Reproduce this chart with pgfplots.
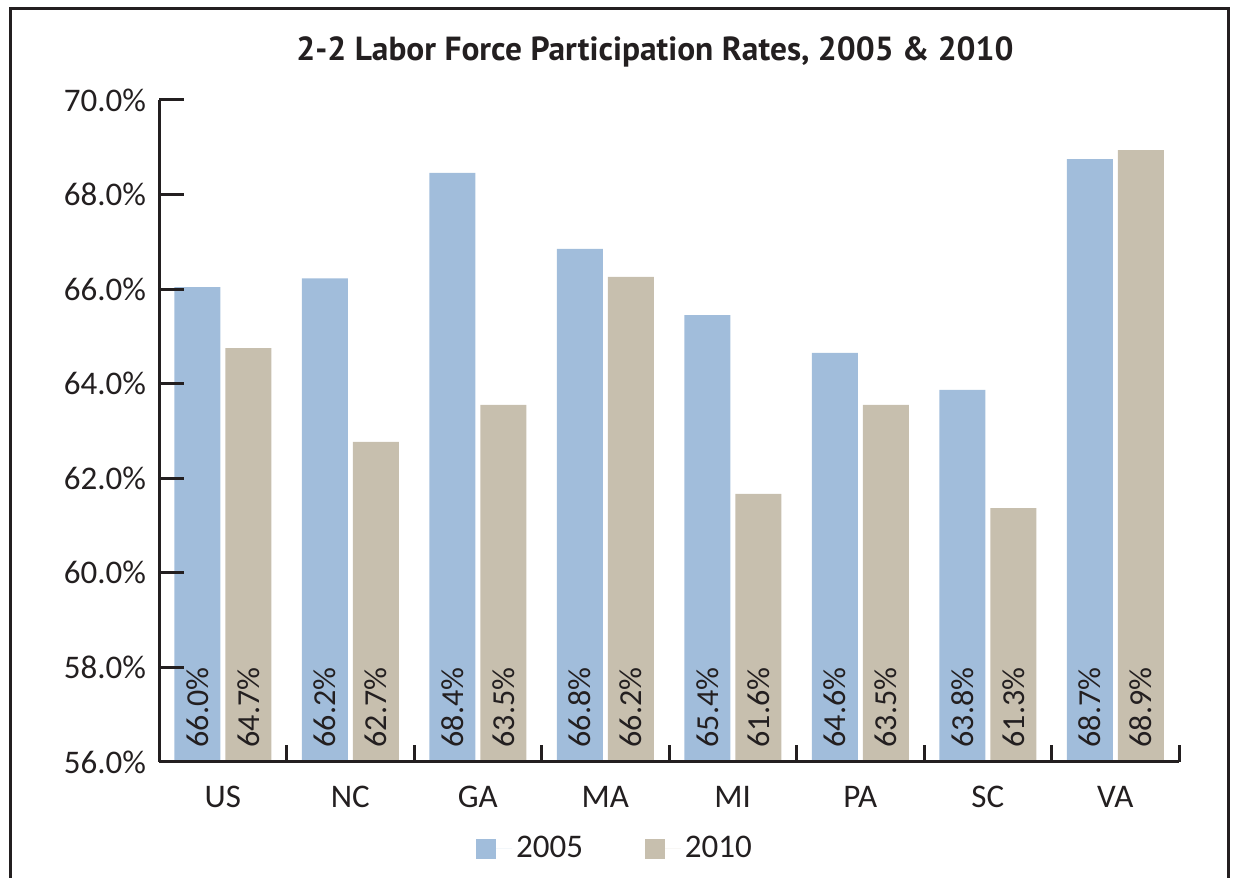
\documentclass[border=0pt]{standalone}
\usepackage{pgfplots}
\pgfplotsset{compat=1.18}
\usepackage{fontspec}
\setmainfont{Carlito}
\newfontfamily\titlefont{PT Sans}
\definecolor{cblue}{RGB}{161,189,219}
\definecolor{ctan}{RGB}{199,191,174}
\definecolor{cdark}{RGB}{35,31,32}
\begin{document}
\begin{tikzpicture}
\useasboundingbox (0,0) rectangle (617.5pt,438.5pt);
\draw[line width=1.5pt,cdark] (5pt,-20pt) -- (5pt,434pt) -- (614pt,434pt) -- (614pt,-20pt);
\node[anchor=base,text=cdark,inner sep=0pt] at (327.5pt,408pt) {\titlefont\bfseries\fontsize{16.7}{19}\selectfont 2-2 Labor Force Participation Rates, 2005 \& 2010};
\begin{axis}[
  at={(79.5pt,57.5pt)}, anchor=south west,
  scale only axis, width=510pt, height=331pt,
  xmin=-0.5, xmax=7.5, ymin=56, ymax=70,
  axis x line=bottom, axis y line=left,
  axis line style={line width=1.5pt,cdark,-},
  axis on top,
  ybar,
  bar width=23pt,
  xtick={0,...,7},
  xticklabels={US,NC,GA,MA,MI,PA,SC,VA},
  major x tick style={draw=none},
  minor xtick={-0.5,0.5,...,7.5},
  minor tick length=8.5pt,
  minor x tick style={line width=1.5pt,cdark},
  ytick={56,58,...,70},
  major tick length=12.5pt,
  major y tick style={line width=1.5pt,cdark},
  tick align=inside,
  yticklabel={\pgfmathprintnumber[fixed,fixed zerofill,precision=1]{\tick}\%},
  /pgf/number format/assume math mode=true,
  tick label style={font=\fontsize{16.5}{19}\selectfont,text=cdark},
  yticklabel style={xshift=-3pt},
  xticklabel style={yshift=-8.5pt},
  legend style={at={(rel axis cs:0.448,-0.131)},anchor=center,draw=none,fill=none,
    legend columns=2,font=\fontsize{16.5}{19}\selectfont,text=cdark,
    /tikz/every even column/.append style={column sep=29pt},
    /tikz/every odd column/.append style={column sep=0pt}},
  legend image code/.code={\fill[#1] (0pt,-5pt) rectangle (10pt,5pt);\path (0pt,0pt) -- (18pt,0pt);},
]
\addplot[fill=cblue,draw=none,bar shift=-12.75pt] coordinates {(0,66.04) (1,66.23) (2,68.46) (3,66.85) (4,65.45) (5,64.65) (6,63.87) (7,68.75)};
\addlegendentry{2005}
\addplot[fill=ctan,draw=none,bar shift=12.75pt] coordinates {(0,64.75) (1,62.77) (2,63.55) (3,66.26) (4,61.67) (5,63.55) (6,61.37) (7,68.94)};
\addlegendentry{2010}
\addplot[forget plot,draw=none,fill=none,bar shift=-12.75pt,
  point meta=explicit symbolic,
  nodes near coords,
  every node near coord/.append style={rotate=90,anchor=west,inner sep=0pt,font=\fontsize{16}{19}\selectfont,text=cdark}]
  table[meta=lab] {
x y lab
0 56.3 66.0\%
1 56.3 66.2\%
2 56.3 68.4\%
3 56.3 66.8\%
4 56.3 65.4\%
5 56.3 64.6\%
6 56.3 63.8\%
7 56.3 68.7\%
};
\addplot[forget plot,draw=none,fill=none,bar shift=12.75pt,
  point meta=explicit symbolic,
  nodes near coords,
  every node near coord/.append style={rotate=90,anchor=west,inner sep=0pt,font=\fontsize{16}{19}\selectfont,text=cdark}]
  table[meta=lab] {
x y lab
0 56.3 64.7\%
1 56.3 62.7\%
2 56.3 63.5\%
3 56.3 66.2\%
4 56.3 61.6\%
5 56.3 63.5\%
6 56.3 61.3\%
7 56.3 68.9\%
};
\end{axis}
\end{tikzpicture}
\end{document}
